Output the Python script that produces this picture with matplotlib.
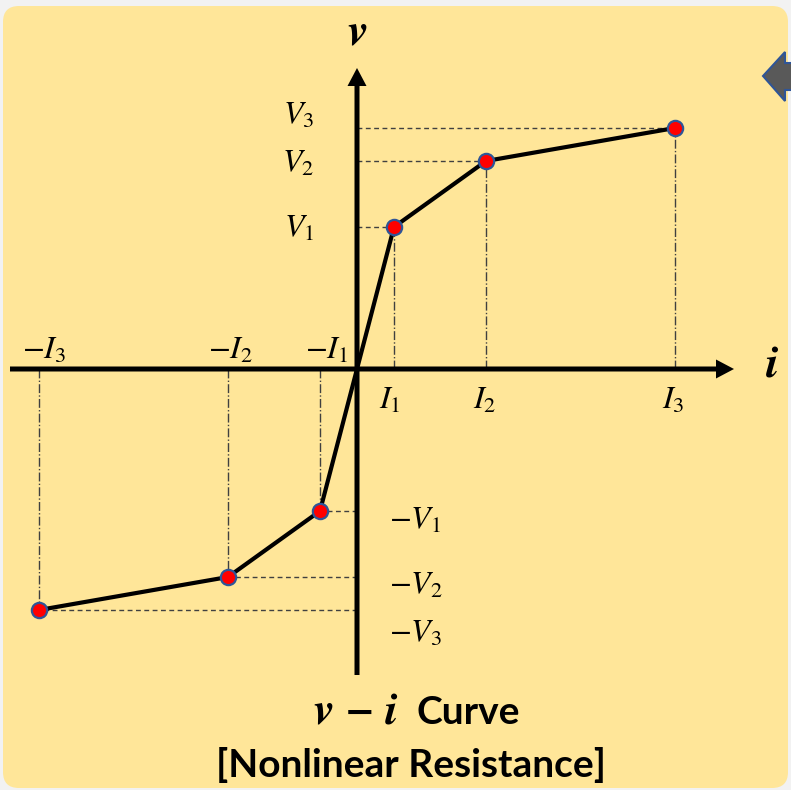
import matplotlib.pyplot as plt
from matplotlib.patches import FancyBboxPatch, Polygon

plt.rcParams['mathtext.fontset'] = 'stix'

# breakpoints of the piecewise-linear v-i characteristic
current = [37, 129, 318]
voltage = [142, 208, 241]
i_labels = [r'$I_1$', r'$I_2$', r'$I_3$']
v_labels = [r'$V_1$', r'$V_2$', r'$V_3$']
neg_i_labels = [r'$-I_1$', r'$-I_2$', r'$-I_3$']
neg_v_labels = [r'$-V_1$', r'$-V_2$', r'$-V_3$']

# origin of the i/v axes in figure pixels
X0, Y0 = 357, 369


def px(x, y):
    # figure pixel -> data coordinates
    return x - X0, Y0 - y


fig = plt.figure(figsize=(7.91, 7.90), dpi=100)
fig.patch.set_facecolor('#F2F2F2')
ax = fig.add_axes([0, 0, 1, 1])
ax.set_xlim(-X0, 791 - X0)
ax.set_ylim(Y0 - 790, Y0)
ax.axis('off')

# yellow rounded panel
x0, y0 = px(3, 788)
panel = FancyBboxPatch((x0, y0), 785, 782, boxstyle='round,pad=0,rounding_size=16',
                       fc='#FFE699', ec='none', zorder=0)
ax.add_patch(panel)

# navigation arrow in the corner
arrow_pts = [px(763, 76), px(785, 52), px(785, 63), px(800, 63),
             px(800, 90), px(785, 90), px(785, 101)]
ax.add_patch(Polygon(arrow_pts, closed=True, fc='#595959', ec='#2F5597', lw=1.5, zorder=1))

# guide lines from each breakpoint to both axes
for I, V in zip(current, voltage):
    for s in (1, -1):
        ax.plot([0, s * I], [s * V, s * V], color='#404040', lw=1, dashes=(3.5, 2.5), zorder=2)
        ax.plot([s * I, s * I], [0, s * V], color='#404040', lw=1, ls='-.', zorder=2)

# i and v axes
ax.arrow(-347, 0, 724, 0, width=5, head_width=19, head_length=18,
         length_includes_head=True, fc='black', ec='none', zorder=3)
ax.arrow(0, -306, 0, 607, width=5, head_width=19, head_length=18,
         length_includes_head=True, fc='black', ec='none', zorder=3)

# the characteristic curve
i_all = [-c for c in current[::-1]] + [0] + current
v_all = [-v for v in voltage[::-1]] + [0] + voltage
ax.plot(i_all, v_all, color='black', lw=3, solid_joinstyle='round', zorder=4)
i_pts = [c for c in i_all if c != 0]
v_pts = [v for v in v_all if v != 0]
ax.plot(i_pts, v_pts, ls='none', marker='o', ms=11, mfc='red', mec='#2F5597',
        mew=1.6, zorder=5)

# axis names
bi = dict(family='STIXGeneral', style='italic', weight='bold', fontsize=33)
ax.text(*px(357, 33), 'v', ha='center', va='center', **bi)
ax.text(*px(772, 366), 'i', ha='center', va='center', **bi)

# breakpoint labels
fs = 23
for lab, (x, y) in zip(v_labels, [(314, 228), (314, 163), (314, 115)]):
    ax.text(*px(x, y), lab, ha='right', va='center', fontsize=fs)
for lab, (x, y) in zip(neg_v_labels, [(389, 520), (389, 585), (389, 633)]):
    ax.text(*px(x, y), lab, ha='left', va='center', fontsize=fs)
for lab, (x, y) in zip(i_labels, [(390, 400), (485, 400), (673, 400)]):
    ax.text(*px(x, y), lab, ha='center', va='center', fontsize=fs)
for lab, (x, y) in zip(neg_i_labels, [(327, 350), (231, 350), (44, 350)]):
    ax.text(*px(x, y), lab, ha='center', va='center', fontsize=fs)

# caption
ax.text(*px(398, 713), 'v − i', ha='right', va='center', **bi)
ax.text(*px(416, 713), 'Curve', ha='left', va='center', family='Lato',
        weight='bold', fontsize=28)
ax.text(*px(411, 765), '[Nonlinear Resistance]', ha='center', va='center',
        family='Lato', weight='bold', fontsize=28)

fig.savefig('out.png', dpi=100, facecolor=fig.get_facecolor())
